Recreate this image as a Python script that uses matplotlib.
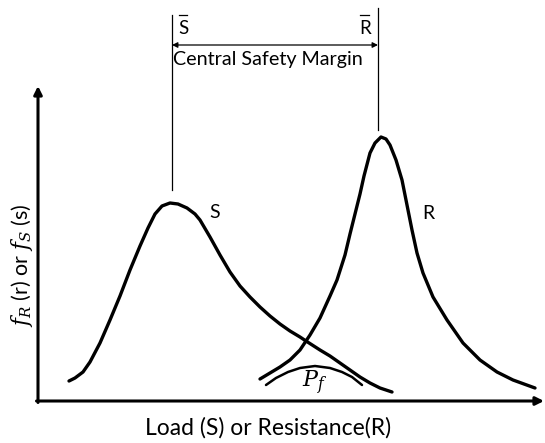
import matplotlib
matplotlib.use("Agg")
import matplotlib.pyplot as plt

plt.rcParams['font.family'] = ['Lato', 'DejaVu Sans']
plt.rcParams['mathtext.fontset'] = 'dejavuserif'

# Curve points (x: load/resistance, y: density), arbitrary units
s_x = [31, 37, 45, 52, 62, 72, 82, 92, 102, 110, 117, 124, 132, 140, 149, 157, 162, 172, 182, 192,
       202, 212, 222, 232, 242, 252, 262, 268, 282, 292, 302, 312, 322, 332, 342, 354]
s_y = [20, 23, 29, 39, 58, 81, 105, 131, 155, 173, 187, 195, 198, 197, 193, 187, 181, 164, 146, 129,
       115, 104, 94, 85, 77, 70, 64, 60, 51, 45, 38, 31, 24, 18, 13, 9]

r_x = [222, 232, 242, 252, 262, 268, 272, 282, 292, 299, 307, 312, 317, 322, 326, 332, 337, 343, 348,
       352, 358, 364, 369, 374, 379, 385, 395, 409, 425, 442, 459, 475, 497]
r_y = [22, 28, 34, 41, 51, 60, 66, 83, 105, 121, 146, 167, 187, 207, 225, 248, 258, 264, 262,
       256, 241, 221, 196, 171, 148, 128, 104, 81, 58, 41, 29, 21, 13]

pf_x = [228, 238, 250, 262, 277, 292, 304, 314, 324]
pf_y = [16, 23, 29, 33, 35, 33, 29, 24, 16]

s_mean = 134
r_mean = 340

fig = plt.figure(figsize=(5.45, 4.43), dpi=100)
ax = fig.add_axes([0, 0, 1, 1])
ax.set_xlim(-38, 507)
ax.set_ylim(-42, 401)
ax.axis('off')

lw_curve = 2.4
ax.plot(s_x, s_y, color='black', lw=lw_curve, solid_capstyle='round', solid_joinstyle='round')
ax.plot(r_x, r_y, color='black', lw=lw_curve, solid_capstyle='round', solid_joinstyle='round')
ax.plot(pf_x, pf_y, color='black', lw=1.8, solid_capstyle='round', solid_joinstyle='round')

# axes with arrows
ax.annotate('', xy=(0, 315), xytext=(0, -1.5),
            arrowprops=dict(arrowstyle='-|>', color='black', lw=2.2, mutation_scale=12, shrinkA=0, shrinkB=0))
ax.annotate('', xy=(506, 0), xytext=(-1.5, 0),
            arrowprops=dict(arrowstyle='-|>', color='black', lw=2.2, mutation_scale=12, shrinkA=0, shrinkB=0))

# mean lines
ax.plot([s_mean, s_mean], [386, 211], color='black', lw=0.9)
ax.plot([r_mean, r_mean], [393, 271], color='black', lw=0.9)

# safety margin arrow
ax.annotate('', xy=(s_mean, 356), xytext=(r_mean, 356),
            arrowprops=dict(arrowstyle='<|-|>', color='black', lw=0.9, mutation_scale=8, shrinkA=0, shrinkB=0))
ax.text(230, 342, 'Central Safety Margin', ha='center', va='center', fontsize=14.2)
ax.text(s_mean + 11, 373, 'S', ha='center', va='center', fontsize=13.5)
ax.plot([s_mean + 7, s_mean + 15], [386, 386], color='black', lw=0.9)
ax.text(r_mean - 13, 373, 'R', ha='center', va='center', fontsize=13.5)
ax.plot([r_mean - 18, r_mean - 9], [386, 386], color='black', lw=0.9)

ax.text(177, 189, 'S', ha='center', va='center', fontsize=14)
ax.text(390, 188, 'R', ha='center', va='center', fontsize=14)
ax.text(277, 18, r'$P_f$', ha='center', va='center', fontsize=16)

ax.text(230, -27, 'Load (S) or Resistance(R)', ha='center', va='center', fontsize=16.5)
ax.text(-16, 136, r'$f_R$ (r) or $f_S$ (s)', ha='center', va='center', fontsize=15.5, rotation=90)

fig.savefig('out.png', dpi=100)
